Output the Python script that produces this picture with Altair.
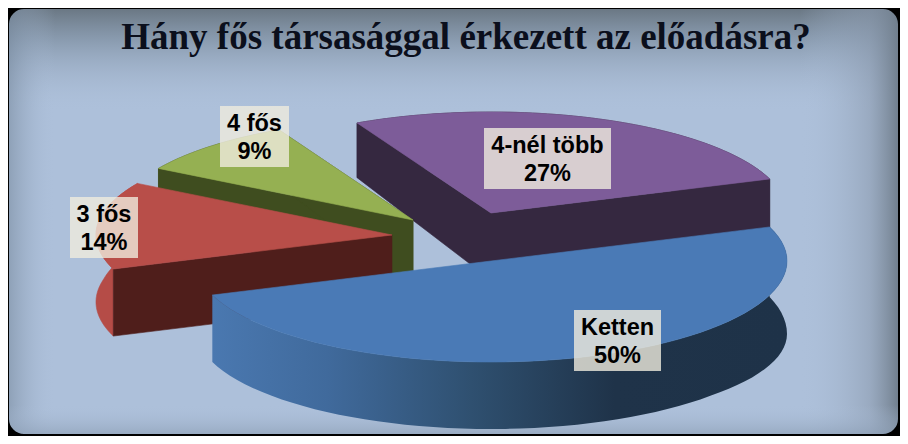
import math
import altair as alt
import pandas as pd

# --- chart values
categories = ["Ketten", "3 fős", "4 fős", "4-nél több"]
shares = [50, 14, 9, 27]
pct_labels = ["50%", "14%", "9%", "27%"]
title_text = "Hány fős társasággal érkezett az előadásra?"

# --- drawing style (reference pixel space)
W, H = 900, 436
OFF = 8
RX, RY = 296, 101
START = -19.7
apex_x = [491, 392, 413, 491]
apex_y = [261, 235, 220, 213]
top_col = ["#4a7ab6", "#b84e49", "#95b052", "#7d5c99"]
side_col = ["#1f3349", "#4f1e1b", "#3f4d1f", "#352840"]
rim_col = ["#1f3349", "#b54c47", "#3f4d1f", "#352840"]
box_x = [(574, 661), (70, 138), (220, 289), (484, 611)]
box_y = [(310, 371), (197, 258), (106, 167), (128, 189)]

xs = alt.Scale(domain=[OFF, W], range=[0, W - OFF], nice=False, zero=False)
ys = alt.Scale(domain=[OFF, H], range=[0, H - OFF], nice=False, zero=False)
X = lambda f: alt.X(f, type="quantitative", scale=xs, axis=None)
Y = lambda f: alt.Y(f, type="quantitative", scale=ys, axis=None)


def depth(y):
    return min(67, 55 + (y - 125) * 0.136)


def rim(ax, ay, t0, t1, n=64):
    pts = []
    for i in range(n + 1):
        t = t0 + (t1 - t0) * i / n
        r = math.radians(t)
        pts.append((ax + RX * math.cos(r), ay + RY * math.sin(r), t))
    return pts


def poly(points, fill, **extra):
    df = pd.DataFrame(points, columns=["x", "y"])
    df["o"] = range(len(df))
    return (
        alt.Chart(df)
        .mark_line(interpolate="linear-closed", fill=fill, stroke=fill if isinstance(fill, str) else "#33547a",
                   strokeWidth=0.6 if isinstance(fill, str) else 0, **extra)
        .encode(x=X("x"), y=Y("y"), order=alt.Order("o:Q"))
    )


def rect(x0, x1, y0, y1, fill, **extra):
    df = pd.DataFrame({"a": [x0], "b": [x1], "c": [y0], "d": [y1]})
    return (
        alt.Chart(df)
        .mark_rect(fill=fill, **extra)
        .encode(x=X("a"), x2="b:Q", y=Y("c"), y2="d:Q")
    )


def fade(x1, x2, y1, y2, stops):
    return alt.Gradient(
        gradient="linear", x1=x1, x2=x2, y1=y1, y2=y2,
        stops=[alt.GradientStop(color=c, offset=o) for o, c in stops],
    )


layers = []
# --- background panel
layers.append(rect(OFF, W, OFF, H, "#adc0da"))
layers.append(rect(OFF, W, OFF, 112, fade(0, 0, 0, 1, [
    (0, "rgba(105,118,130,1)"), (0.3, "rgba(125,142,160,0.75)"), (1, "rgba(173,192,218,0)")])))
layers.append(rect(OFF, 55, OFF, H, fade(0, 1, 0, 0, [
    (0, "rgba(120,138,158,0.6)"), (1, "rgba(173,192,218,0)")])))
layers.append(rect(800, W, OFF, H, fade(0, 1, 0, 0, [
    (0, "rgba(173,192,218,0)"), (0.7, "rgba(140,155,175,0.6)"), (1, "rgba(110,124,138,1)")])))
layers.append(rect(OFF, W, 405, H, fade(0, 0, 0, 1, [
    (0, "rgba(173,192,218,0)"), (1, "rgba(140,158,180,0.7)")])))

# --- slices, back to front
angles = []
a = START
for s in shares:
    angles.append((a, a + s * 3.6))
    a += s * 3.6

for i in [3, 2, 1, 0]:
    ax, ay = apex_x[i], apex_y[i]
    t0, t1 = angles[i]
    arc3 = rim(ax, ay, t0, t1)
    top = [(x, y) for x, y, _ in arc3]
    # outer wall; the front right of the big slice is a little deeper
    low = []
    for x, y, t in arc3:
        extra = 6 * max(0, 1 - abs(t) / 40) if i == 0 else 0
        low.append((x, y + depth(y) + extra))
    wall_fill = rim_col[i]
    if i == 0:
        wall_fill = fade(0, 1, 0, 0, [
            (0, "#4a78b0"), (0.2, "#406a9c"), (0.45, "#2f5070"),
            (0.7, "#1f3349"), (1, "#1e3248")])
    layers.append(poly(top + low[::-1], wall_fill))
    # radial walls
    for px, py in (top[0], top[-1]):
        if i == 0:
            continue
        if i == 1 and (px, py) == top[-1]:
            continue
        layers.append(poly([(ax, ay), (px, py), (px, py + depth(py)), (ax, ay + depth(ay))], side_col[i]))
    # top face
    layers.append(poly([(ax, ay)] + top, top_col[i]))

# --- data labels
for i, cat in enumerate(categories):
    x0, x1 = box_x[i]
    y0, y1 = box_y[i]
    layers.append(rect(x0, x1, y0, y1, "#efebdd", opacity=0.8))
    df = pd.DataFrame({"t": [cat, pct_labels[i]], "x": [(x0 + x1) / 2] * 2,
                       "y": [y0 + 18, y0 + 46]})
    layers.append(
        alt.Chart(df)
        .mark_text(font="Liberation Sans", fontWeight="bold", fontSize=23.5, color="#000000", baseline="middle")
        .encode(x=X("x"), y=Y("y"), text="t:N")
    )

# --- title
layers.append(
    alt.Chart(pd.DataFrame({"t": [title_text], "x": [466], "y": [38]}))
    .mark_text(font="Liberation Serif", fontWeight="bold", fontSize=37, color="#0b0f1c", baseline="middle")
    .encode(x=X("x"), y=Y("y"), text="t:N")
)

# --- frame with rounded inner corners
layers.append(
    alt.Chart(pd.DataFrame({"a": [OFF - 21], "b": [W + 20], "c": [OFF - 21], "d": [H + 20]}))
    .mark_rect(fill="transparent", stroke="#000000", strokeWidth=44, cornerRadius=37)
    .encode(x=X("a"), x2="b:Q", y=Y("c"), y2="d:Q")
)

chart = (
    alt.layer(*layers)
    .properties(width=W - OFF, height=H - OFF, padding=0, autosize=alt.AutoSizeParams(type="none"))
    .configure_view(strokeWidth=0)
)
chart.save("out.html", embed_options={"renderer": "svg", "actions": False})
